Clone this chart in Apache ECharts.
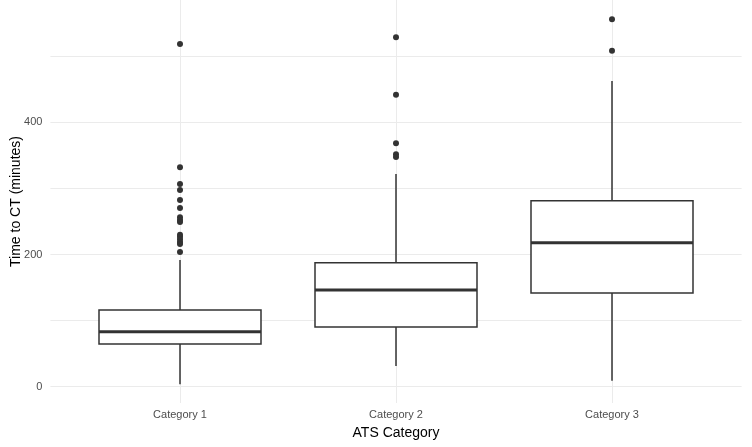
<!DOCTYPE html>
<html>
<head>
<meta charset="utf-8">
<script src="https://cdn.jsdelivr.net/npm/echarts@6/dist/echarts.min.js"></script>
<style>html,body{margin:0;padding:0;background:#fff;}#c{width:752px;height:447px;}</style>
</head>
<body>
<div id="c"></div>
<script>
const categories = ['Category 1', 'Category 2', 'Category 3'];
// [low whisker, Q1, median, Q3, high whisker]
const boxCat1 = [3.6, 64.6, 83.2, 116, 191.7];
const boxCat2 = [31.3, 90.3, 146.3, 187.6, 321.8];
const boxCat3 = [9.1, 141.8, 217.9, 281.4, 462.5];
const outliersCat1 = [518.5, 331.9, 306.7, 297.6, 282.5, 270.4, 256.3, 252.2, 249.2, 230, 227, 223, 218.9, 215.9, 203.8];
const outliersCat2 = [528.6, 441.8, 368.2, 351.6, 347.5];
const outliersCat3 = [555.8, 508.3];
const yLabelValues = [0, 200, 400];
const yGridValues = [0, 100, 200, 300, 400, 500];

const boxes = [boxCat1, boxCat2, boxCat3];
const outs = [outliersCat1, outliersCat2, outliersCat3];
const boxData = boxes.map((b, i) => [i + 1].concat(b));
const outData = [];
outs.forEach((arr, i) => arr.forEach(v => outData.push([i + 1, v])));

const chart = echarts.init(document.getElementById('c'));
const FONT = '"Liberation Sans", Arial, sans-serif';
chart.setOption({
  animation: false,
  grid: {left: 50.4, right: 10.4, top: 0, bottom: 44, containLabel: false, outerBoundsMode: 'none'},
  xAxis: {
    type: 'value', min: 0.4, max: 3.6,
    name: 'ATS Category', nameLocation: 'middle', nameGap: 23,
    nameTextStyle: {color: '#000', fontSize: 14, fontFamily: FONT},
    axisLine: {show: false},
    axisTick: {show: false, customValues: [1, 2, 3]},
    axisLabel: {customValues: [1, 2, 3], formatter: v => categories[Math.round(v) - 1], color: '#4d4d4d', fontSize: 11, fontFamily: FONT, margin: 6},
    splitLine: {show: true, lineStyle: {color: '#ebebeb', width: 1}}
  },
  yAxis: {
    type: 'value', min: -24.7, max: 585,
    name: 'Time to CT (minutes)', nameLocation: 'middle', nameGap: 27, nameMoveOverlap: false,
    nameTextStyle: {color: '#000', fontSize: 14, fontFamily: FONT},
    axisLine: {show: false},
    axisTick: {show: false, customValues: yGridValues},
    axisLabel: {customValues: yLabelValues, color: '#4d4d4d', fontSize: 11, fontFamily: FONT, margin: 8},
    splitLine: {show: true, lineStyle: {color: '#ebebeb', width: 1}}
  },
  series: [
    {
      type: 'custom',
      data: boxData,
      encode: {x: 0, y: [1, 2, 3, 4, 5]},
      renderItem: function (params, api) {
        const x = api.value(0);
        const lo = api.coord([x, api.value(1)]);
        const q1 = api.coord([x, api.value(2)]);
        const md = api.coord([x, api.value(3)]);
        const q3 = api.coord([x, api.value(4)]);
        const hi = api.coord([x, api.value(5)]);
        const w = api.size([0.75, 0])[0];
        const cx = lo[0];
        const st = {stroke: '#333333', lineWidth: 1.5, fill: null};
        return {
          type: 'group',
          children: [
            {type: 'line', shape: {x1: cx, y1: lo[1], x2: cx, y2: q1[1]}, style: st},
            {type: 'line', shape: {x1: cx, y1: q3[1], x2: cx, y2: hi[1]}, style: st},
            {type: 'rect', shape: {x: cx - w / 2, y: q3[1], width: w, height: q1[1] - q3[1]}, style: {stroke: '#333333', lineWidth: 1.5, fill: '#ffffff'}},
            {type: 'line', shape: {x1: cx - w / 2, y1: md[1], x2: cx + w / 2, y2: md[1]}, style: {stroke: '#333333', lineWidth: 3}}
          ]
        };
      }
    },
    {
      type: 'scatter',
      data: outData,
      symbol: 'circle',
      symbolSize: 6,
      itemStyle: {color: '#333333', opacity: 1}
    }
  ]
});
</script>
</body>
</html>
